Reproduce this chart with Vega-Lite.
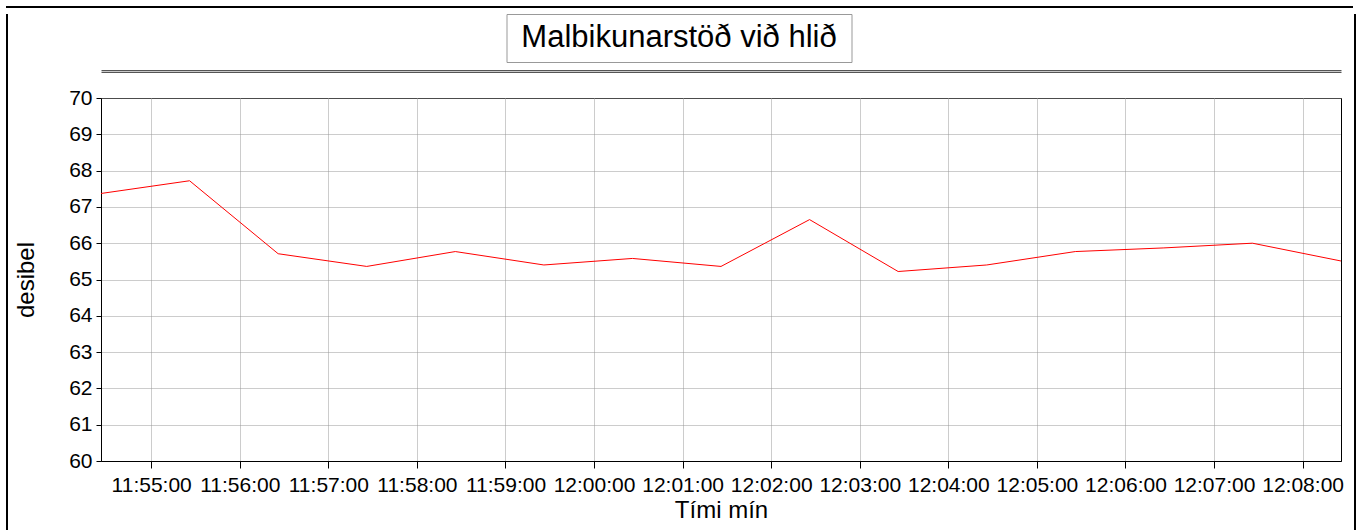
{
  "$schema": "https://vega.github.io/schema/vega-lite/v6.json",
  "padding": {"left": 6, "top": 6, "right": 6, "bottom": 0},
  "background": "white",
  "config": {
    "font": "Liberation Sans",
    "view": {"stroke": null},
    "axis": {
      "labelColor": "black",
      "titleColor": "black",
      "titleFontWeight": "normal",
      "domainColor": "black",
      "tickColor": "black"
    }
  },
  "datasets": {
    "noise": [
      {"time": "2024-01-01T11:54:26", "db": 67.37},
      {"time": "2024-01-01T11:55:26", "db": 67.72},
      {"time": "2024-01-01T11:56:26", "db": 65.71},
      {"time": "2024-01-01T11:57:26", "db": 65.36},
      {"time": "2024-01-01T11:58:26", "db": 65.77},
      {"time": "2024-01-01T11:59:26", "db": 65.40},
      {"time": "2024-01-01T12:00:26", "db": 65.58},
      {"time": "2024-01-01T12:01:26", "db": 65.36},
      {"time": "2024-01-01T12:02:26", "db": 66.65},
      {"time": "2024-01-01T12:03:26", "db": 65.22},
      {"time": "2024-01-01T12:04:26", "db": 65.40},
      {"time": "2024-01-01T12:05:26", "db": 65.77},
      {"time": "2024-01-01T12:06:26", "db": 65.87},
      {"time": "2024-01-01T12:07:26", "db": 66.00},
      {"time": "2024-01-01T12:08:26", "db": 65.51}
    ],
    "heading": [{"t": "Malbikunarstöð við hlið"}],
    "blank": [{"b": 0}]
  },
  "spacing": 5,
  "vconcat": [
    {
      "width": 1347, "height": 2,
      "data": {"name": "blank"},
      "mark": {"type": "text", "text": "", "fontSize": 0},
      "view": {"fill": "black", "stroke": null}
    },
    {
      "spacing": 6,
      "hconcat": [
        {
          "width": 2, "height": 517,
          "data": {"name": "blank"},
          "mark": {"type": "text", "text": "", "fontSize": 0},
          "view": {"fill": "black", "stroke": null}
        },
        {
          "spacing": 10,
          "hconcat": [
            {
              "spacing": 6,
              "center": true,
              "vconcat": [
                {
                  "spacing": 0,
                  "hconcat": [
                    {
                      "width": 345, "height": 48,
                      "data": {"name": "heading"},
                      "mark": {"type": "text", "fontSize": 31, "color": "black"},
                      "encoding": {"text": {"field": "t", "type": "nominal"}},
                      "view": {"stroke": "#999999", "strokeWidth": 1, "fill": "white"}
                    },
                    {
                      "width": 86, "height": 48,
                      "data": {"name": "blank"},
                      "mark": {"type": "text", "text": "", "fontSize": 0},
                      "view": {"stroke": null, "fill": null}
                    }
                  ]
                },
                {
                  "width": 1240, "height": 363,
                  "data": {"name": "noise"},
                  "view": {"stroke": "black", "strokeWidth": 1},
                  "encoding": {
                    "y": {
                      "field": "db", "type": "quantitative", "title": "desibel",
                      "scale": {"domain": [60, 70], "nice": false, "zero": false},
                      "axis": {
                        "values": [60, 61, 62, 63, 64, 65, 66, 67, 68, 69, 70],
                        "grid": true, "gridColor": "#999999", "gridDash": [1, 1],
                        "labelFontSize": 21, "tickSize": 5, "labelPadding": 4,
                        "titleFontSize": 24, "titlePadding": 30
                      }
                    }
                  },
                  "layer": [
                    {
                      "mark": {"type": "line", "color": "#ff0000", "strokeWidth": 1},
                      "encoding": {
                        "x": {
                          "field": "time", "type": "temporal", "title": "Tími mín",
                          "scale": {"nice": false},
                          "axis": {
                            "orient": "bottom",
                            "format": "%H:%M:%S",
                            "values": [
                              {"year": 2024, "month": 1, "date": 1, "hours": 11, "minutes": 55},
                              {"year": 2024, "month": 1, "date": 1, "hours": 11, "minutes": 56},
                              {"year": 2024, "month": 1, "date": 1, "hours": 11, "minutes": 57},
                              {"year": 2024, "month": 1, "date": 1, "hours": 11, "minutes": 58},
                              {"year": 2024, "month": 1, "date": 1, "hours": 11, "minutes": 59},
                              {"year": 2024, "month": 1, "date": 1, "hours": 12, "minutes": 0},
                              {"year": 2024, "month": 1, "date": 1, "hours": 12, "minutes": 1},
                              {"year": 2024, "month": 1, "date": 1, "hours": 12, "minutes": 2},
                              {"year": 2024, "month": 1, "date": 1, "hours": 12, "minutes": 3},
                              {"year": 2024, "month": 1, "date": 1, "hours": 12, "minutes": 4},
                              {"year": 2024, "month": 1, "date": 1, "hours": 12, "minutes": 5},
                              {"year": 2024, "month": 1, "date": 1, "hours": 12, "minutes": 6},
                              {"year": 2024, "month": 1, "date": 1, "hours": 12, "minutes": 7},
                              {"year": 2024, "month": 1, "date": 1, "hours": 12, "minutes": 8}
                            ],
                            "grid": true, "gridColor": "#999999", "gridDash": [1, 1],
                            "labelFontSize": 21, "labelPadding": 6, "tickSize": 7,
                            "labelFlush": false, "labelOverlap": false,
                            "titleFontSize": 24, "titlePadding": 3
                          }
                        }
                      }
                    },
                    {
                      "mark": {"type": "line", "strokeOpacity": 0},
                      "encoding": {
                        "x": {
                          "field": "time", "type": "temporal",
                          "axis": {"orient": "top", "offset": 26, "labels": false, "ticks": false, "grid": false, "title": null, "domainColor": "#555555"}
                        }
                      }
                    },
                    {
                      "mark": {"type": "line", "strokeOpacity": 0},
                      "encoding": {
                        "x": {
                          "field": "time", "type": "temporal",
                          "axis": {"orient": "top", "offset": 27, "labels": false, "ticks": false, "grid": false, "title": null, "domainColor": "#c8c8c8"}
                        }
                      }
                    },
                    {
                      "mark": {"type": "line", "strokeOpacity": 0},
                      "encoding": {
                        "x": {
                          "field": "time", "type": "temporal",
                          "axis": {"orient": "top", "offset": 28, "labels": false, "ticks": false, "grid": false, "title": null, "domainColor": "#555555"}
                        }
                      }
                    }
                  ],
                  "resolve": {"axis": {"x": "independent"}}
                }
              ]
            },
            {
              "width": 2, "height": 517,
              "data": {"name": "blank"},
              "mark": {"type": "text", "text": "", "fontSize": 0},
              "view": {"fill": "black", "stroke": null}
            }
          ]
        }
      ]
    }
  ]
}
